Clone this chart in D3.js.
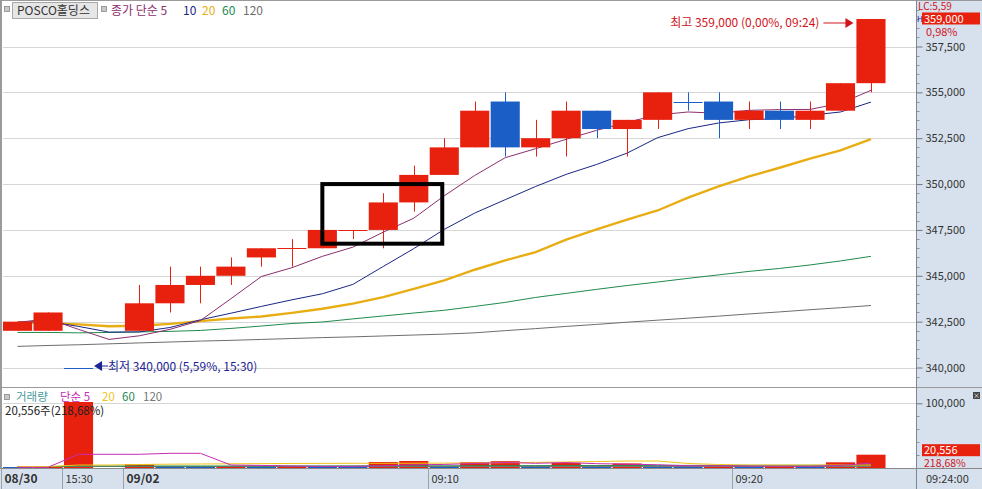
<!DOCTYPE html>
<html><head><meta charset="utf-8">
<script src="https://cdn.jsdelivr.net/npm/d3@7"></script>
<style>
html,body{margin:0;padding:0;background:#fff;overflow:hidden;}
svg{display:block;font-family:'Noto Sans CJK KR','Noto Sans',sans-serif;}
</style></head><body>
<svg id="c" width="982" height="489"></svg>
<script>
// ---------- DATA ----------
const slotTimes = ["15:19","15:20","15:30","","09:00","09:01","09:02","09:03","09:04","09:05","09:06","09:07","09:08","09:09","09:10","09:11","09:12","09:13","09:14","09:15","09:16","09:17","09:18","09:19","09:20","09:21","09:22","09:23","09:24",""];
const openP  = [342000,342000,340000,null,342000,343500,344500,345000,346000,346500,346500,347500,347500,349000,350500,352000,354500,352000,352500,354000,353000,353500,354500,354500,353500,354000,353500,354000,355500,null];
const highP  = [342500,343000,340000,null,344500,345500,345500,346000,346500,347000,347500,347500,349500,351000,352500,354500,355000,353500,354500,354000,353500,355000,355000,355000,354500,354500,354500,355500,359000,null];
const lowP   = [342000,342000,340000,null,342000,343000,343500,344500,345500,345500,346500,347000,346500,348500,350500,352000,351500,351500,351500,352500,351500,353000,354000,352500,353000,353000,353000,354000,355000,null];
const closeP = [342500,343000,340000,null,343500,344500,345000,345500,346500,346500,347500,347500,349000,350500,352000,354000,352000,352500,354000,353000,353500,355000,354500,353500,354000,353500,354000,355500,359000,null];
const volume = [1500,2000,102000,0,5700,2500,2000,2500,2000,2500,2000,1500,9300,10800,3000,9000,10500,3000,8000,3000,7000,2500,2000,3500,2000,3500,2500,8800,20556,null];

const ma5   = [342460,342650,342080,341530,341730,342080,342560,343750,344960,345440,346060,346560,347380,348140,349360,350470,351440,351930,352440,352930,353370,353770,353930,353860,354020,354060,354070,354400,355110,null];
const ma10  = [342460,342510,342240,341930,341940,342180,342600,342960,343330,343690,344020,344530,345510,346480,347530,348420,349150,349870,350530,351070,351690,352530,353020,353330,353510,353570,353750,353930,354470,null];
const ma20  = [342470,342430,342350,342250,342280,342380,342530,342670,342780,342980,343200,343480,343840,344290,344750,345330,345840,346290,346970,347530,348060,348560,349260,349870,350420,350890,351390,351840,352450,null];
const ma60  = [341910,341910,341890,341910,341940,341970,342020,342130,342260,342400,342480,342650,342810,342970,343120,343330,343550,343820,344040,344260,344470,344660,344860,345050,345240,345400,345590,345810,346060,null];
const ma120 = [341150,341200,341240,341290,341340,341390,341440,341480,341530,341580,341630,341670,341720,341770,341820,341890,342010,342120,342240,342350,342470,342580,342690,342800,342920,343030,343150,343260,343380,null];

const vma5   = [1100,1100,21200,21200,21200,22700,22700,4600,4000,3000,2500,2500,3500,5000,5500,7000,8500,7300,8300,6700,6000,5000,3500,3500,3000,2700,2700,4000,7500,null];
const vma20  = [2300,2300,4600,4600,5400,5900,6200,6500,6800,7000,7100,7300,7300,7400,7600,7700,8200,8700,9300,10000,10800,10800,7000,5400,4600,4600,4600,4600,4600,null];
const vma60  = [1900,1900,3100,3100,3100,3100,3100,3100,3200,3200,3200,3300,3300,3400,3400,3500,3600,3700,3800,3800,3900,4000,4000,4100,4100,4200,4200,4200,4300,null];
const vma120 = [2300,2300,2300,2300,2300,2300,2300,2300,2300,2300,2300,2300,2300,2300,2300,2300,2300,2300,2300,2300,2300,2300,2300,2300,2300,2300,2300,2300,2300,null];

const priceTicks = [340000,342500,345000,347500,350000,352500,355000,357500];
const volTicks = [100000];
const xLabelText = ["08/30","15:30","09/02","09:10","09:20"];
const xLabelSlot = [0,2,4,14,24];
const xLabelBold = [true,false,true,false,false];
const maLegendText = ["종가 단순 5","10","20","60","120"];
const volLegendText = ["거래량","단순 5","20","60","120"];
const highInfo = {slot:28, price:359000, text:"최고 359,000 (0,00%, 09:24)"};
const lowInfo  = {slot:2, price:340000, text:"최저 340,000 (5,59%, 15:30)"};
const boxSlots = [10,14], boxPrices = [346750,350000];

// ---------- STYLE ----------
const RED="#e8200e", BLUE="#1a5ec6", AXBG="#d7e1ee", GRID="#d6d6d6", TXT="#333";
const maColors = ["#8b2f6e","#1b2585","#e8ad12","#208a4e","#6e6e6e"];
const maWidths = [1,1,2.4,1,1];
const vmaColors = ["#c62cb4","#f0c419","#2a8a50","#777"];

const W=982,H=489, PL=3, PR=916;
const svg=d3.select("#c");

const xS=d3.scaleBand().domain(d3.range(slotTimes.length)).range([PL,PR]).paddingInner(0.045);
const bw=xS.bandwidth();
const cx=i=>xS(i)+bw/2;
const yP=d3.scaleLinear().domain([340000,357500]).range([367.5,46.5]);
const yV=d3.scaleLinear().domain([0,100000]).range([468,403.3]);

// backgrounds
svg.append("rect").attr("width",W).attr("height",H).attr("fill","#fff");
svg.append("rect").attr("x",PR+1).attr("y",0).attr("width",W-PR-1).attr("height",H).attr("fill",AXBG);
svg.append("rect").attr("x",0).attr("y",468).attr("width",W).attr("height",H-468).attr("fill",AXBG);

// clip paths
const defs=svg.append("defs");
defs.append("clipPath").attr("id","mainClip").append("rect").attr("x",PL).attr("y",0).attr("width",PR-PL).attr("height",386);
defs.append("clipPath").attr("id","volClip").append("rect").attr("x",PL).attr("y",389).attr("width",PR-PL).attr("height",79);

// grid
const main=svg.append("g");
main.selectAll("line.grid").data(priceTicks).join("line")
  .attr("x1",PL).attr("x2",PR).attr("y1",d=>Math.round(yP(d))+0.5).attr("y2",d=>Math.round(yP(d))+0.5)
  .attr("stroke",GRID);
svg.selectAll("line.vgrid").data(volTicks).join("line")
  .attr("x1",PL).attr("x2",PR).attr("y1",d=>Math.round(yV(d))+0.5).attr("y2",d=>Math.round(yV(d))+0.5)
  .attr("stroke",GRID);

// MA lines
const mg=main.append("g").attr("clip-path","url(#mainClip)");
[ma120,ma60,ma20,ma10,ma5].forEach((arr,k)=>{
  const idx=4-k;
  const line=d3.line().defined(d=>d!=null).x((d,i)=>cx(i)).y(d=>yP(d));
  mg.append("path").datum(arr).attr("d",line).attr("fill","none")
    .attr("stroke",maColors[idx]).attr("stroke-width",maWidths[idx]);
});

// candles
const cdata=slotTimes.map((t,i)=>({i,o:openP[i],h:highP[i],l:lowP[i],c:closeP[i]})).filter(d=>d.o!=null);
const isUp=d=>d.c>d.o || (d.c===d.o && d.i>0 && closeP[d.i-1]!=null && d.c>=closeP[d.i-1]);
const cg=mg.append("g");
cdata.forEach(d=>{
  const col=isUp(d)?RED:BLUE;
  const xm=Math.round(cx(d.i))+0.5;
  if(d.h>d.l) cg.append("line").attr("x1",xm).attr("x2",xm).attr("y1",yP(d.h)).attr("y2",yP(d.l)).attr("stroke",col).attr("stroke-width",1);
  if(d.o===d.c){
    const yy=Math.round(yP(d.o))+0.5;
    cg.append("line").attr("x1",xS(d.i)).attr("x2",xS(d.i)+bw).attr("y1",yy).attr("y2",yy).attr("stroke",col).attr("stroke-width",1);
  } else {
    const y1=yP(Math.max(d.o,d.c)), y2=yP(Math.min(d.o,d.c));
    cg.append("rect").attr("x",xS(d.i)).attr("y",y1).attr("width",bw).attr("height",Math.max(1,y2-y1)).attr("fill",col);
  }
});

// annotation box
mg.append("rect").attr("x",cx(boxSlots[0])).attr("y",yP(boxPrices[1]))
  .attr("width",cx(boxSlots[1])-cx(boxSlots[0])-2).attr("height",yP(boxPrices[0])-yP(boxPrices[1]))
  .attr("fill","none").attr("stroke","#000").attr("stroke-width",4);

// high label
const hx=xS(highInfo.slot)-3, hy=yP(highInfo.price)+4;
main.append("line").attr("x1",hx-30).attr("x2",hx-6).attr("y1",hy).attr("y2",hy).attr("stroke","#d0141a").attr("stroke-width",1);
main.append("path").attr("d",`M${hx},${hy} L${hx-8},${hy-5} L${hx-8},${hy+5} Z`).attr("fill","#d0141a");
main.append("text").attr("x",hx-34).attr("y",hy+4).attr("text-anchor","end").attr("font-size",12).attr("fill","#d0141a").text(highInfo.text);

// low label
const lx=xS(lowInfo.slot)+bw+1, ly=yP(lowInfo.price)-1.5;
main.append("path").attr("d",`M${lx},${ly} L${lx+8},${ly-5} L${lx+8},${ly+5} Z`).attr("fill","#1c2496");
main.append("line").attr("x1",lx+6).attr("x2",lx+14).attr("y1",ly).attr("y2",ly).attr("stroke","#1c2496");
main.append("text").attr("x",lx+14).attr("y",ly+4.5).attr("font-size",12).attr("fill","#1c2496").text(lowInfo.text);

// ---------- VOLUME ----------
const vg=svg.append("g").attr("clip-path","url(#volClip)");
volume.forEach((v,i)=>{
  if(v==null||v===0) return;
  const prev=i>0?(volume[i-1]||0):Infinity;
  vg.append("rect").attr("x",xS(i)).attr("y",yV(v)).attr("width",bw).attr("height",yV(0)-yV(v))
    .attr("fill",v>prev?RED:BLUE);
});
[vma120,vma60,vma20,vma5].forEach((arr,k)=>{
  const idx=3-k;
  const line=d3.line().defined(d=>d!=null).x((d,i)=>cx(i)).y(d=>yV(d));
  vg.append("path").datum(arr).attr("d",line).attr("fill","none").attr("stroke",vmaColors[idx]).attr("stroke-width",1);
});

// panel borders
svg.append("line").attr("x1",0).attr("x2",W).attr("y1",0.5).attr("y2",0.5).attr("stroke","#9a9a9a");
svg.append("line").attr("x1",1).attr("x2",1).attr("y1",0).attr("y2",468).attr("stroke","#9a9a9a").attr("stroke-width",2);
svg.append("line").attr("x1",0).attr("x2",W).attr("y1",387.5).attr("y2",387.5).attr("stroke","#9a9a9a");
svg.append("line").attr("x1",0).attr("x2",W).attr("y1",468.5).attr("y2",468.5).attr("stroke","#8a8a8a");
svg.append("line").attr("x1",PR+0.5).attr("x2",PR+0.5).attr("y1",0).attr("y2",H).attr("stroke","#7d8794");

// right price axis
const minorP=d3.range(339500,359501,500).filter(v=>!priceTicks.includes(v));
const axG=svg.append("g").attr("transform",`translate(${PR+0.5},0)`);
axG.selectAll("line.mi").data(minorP).join("line").attr("x1",0).attr("x2",3)
  .attr("y1",d=>Math.round(yP(d))+0.5).attr("y2",d=>Math.round(yP(d))+0.5).attr("stroke","#8a94a0");
const pAxis=d3.axisRight(yP).tickValues(priceTicks).tickSize(6).tickPadding(3).tickFormat(d3.format(","));
axG.call(pAxis);
axG.select(".domain").remove();
axG.selectAll(".tick line").attr("stroke","#6d7680");
axG.selectAll(".tick text").attr("font-size",11).attr("fill",TXT).attr("font-family","'Noto Sans CJK KR',sans-serif");

// right volume axis
const vAx=svg.append("g").attr("transform",`translate(${PR+0.5},0)`);
vAx.selectAll("line.mi").data([20000,40000,60000,80000]).join("line").attr("x1",0).attr("x2",3)
  .attr("y1",d=>Math.round(yV(d))+0.5).attr("y2",d=>Math.round(yV(d))+0.5).attr("stroke","#8a94a0");
vAx.call(d3.axisRight(yV).tickValues(volTicks).tickSize(6).tickPadding(3).tickFormat(d3.format(",")));
vAx.select(".domain").remove();
vAx.selectAll(".tick line").attr("stroke","#6d7680");
vAx.selectAll(".tick text").attr("font-size",11).attr("fill",TXT).attr("font-family","'Noto Sans CJK KR',sans-serif");

// current price markers (right)
const lastClose=closeP[28], lastVol=volume[28];
svg.append("text").attr("x",918).attr("y",9.5).attr("font-size",10).attr("fill","#d0141a").text("LC:5,59");
svg.append("text").attr("x",917).attr("y",22).attr("font-size",8).attr("fill","#1c2aa0").text("H");
svg.append("rect").attr("x",922).attr("y",yP(lastClose)-6.5).attr("width",58).attr("height",12).attr("fill",RED);
svg.append("text").attr("x",924).attr("y",yP(lastClose)+4).attr("font-size",11).attr("fill","#fff").text(d3.format(",")(lastClose));
svg.append("text").attr("x",926).attr("y",yP(lastClose)+17).attr("font-size",11).attr("fill","#d0141a").text("0,98%");
svg.append("rect").attr("x",922).attr("y",yV(lastVol)-10.5).attr("width",58).attr("height",12).attr("fill",RED);
svg.append("text").attr("x",924).attr("y",yV(lastVol)-0.5).attr("font-size",11).attr("fill","#fff").text(d3.format(",")(lastVol));
svg.append("text").attr("x",924).attr("y",yV(lastVol)+12.5).attr("font-size",10.5).attr("fill","#d0141a").text("218,68%");
svg.append("rect").attr("x",973).attr("y",392).attr("width",7).attr("height",7).attr("fill","#444");
svg.append("text").attr("x",976.5).attr("y",398).attr("text-anchor","middle").attr("font-size",7).attr("fill","#fff").text("×");

// bottom axis
xLabelSlot.forEach((s,k)=>{
  const x=Math.round(xS(s))-1.5;
  svg.append("line").attr("x1",x).attr("x2",x).attr("y1",469).attr("y2",489).attr("stroke","#9aa3ad");
  svg.append("text").attr("x",x+3).attr("y",483).attr("font-size",xLabelBold[k]?12:11)
    .attr("font-weight",xLabelBold[k]?"bold":"normal").attr("fill",TXT).text(xLabelText[k]);
});
svg.append("text").attr("x",926).attr("y",483).attr("font-size",11).attr("fill",TXT).text(slotTimes[28]+":00");

// legends
function icon(x,y){svg.append("rect").attr("x",x).attr("y",y).attr("width",5).attr("height",5).attr("fill","#c8c8c8").attr("stroke","#888").attr("stroke-width",0.8);}
icon(4.5,6.5);
svg.append("rect").attr("x",12.5).attr("y",2.5).attr("width",85).attr("height",16).attr("fill","#e6e6e6").attr("stroke","#a8a8a8");
svg.append("text").attr("x",17).attr("y",15).attr("font-size",12).attr("fill",TXT).text("POSCO홀딩스");
icon(101.5,6.5);
const legX=[111,183,202,222,243];
maLegendText.forEach((t,k)=>svg.append("text").attr("x",legX[k]).attr("y",15).attr("font-size",12).attr("fill",maColors[k]).text(t));
icon(4.5,394.5);
const vLegX=[16,60,102,122,143];
const vLegCol=["#4a9aa0",vmaColors[0],vmaColors[1],vmaColors[2],vmaColors[3]];
volLegendText.forEach((t,k)=>svg.append("text").attr("x",vLegX[k]).attr("y",401).attr("font-size",11.5).attr("fill",vLegCol[k]).text(t));
svg.append("text").attr("x",5).attr("y",415).attr("font-size",11.5).attr("fill","#222").text("20,556주(218,68%)");
</script>
</body></html>
